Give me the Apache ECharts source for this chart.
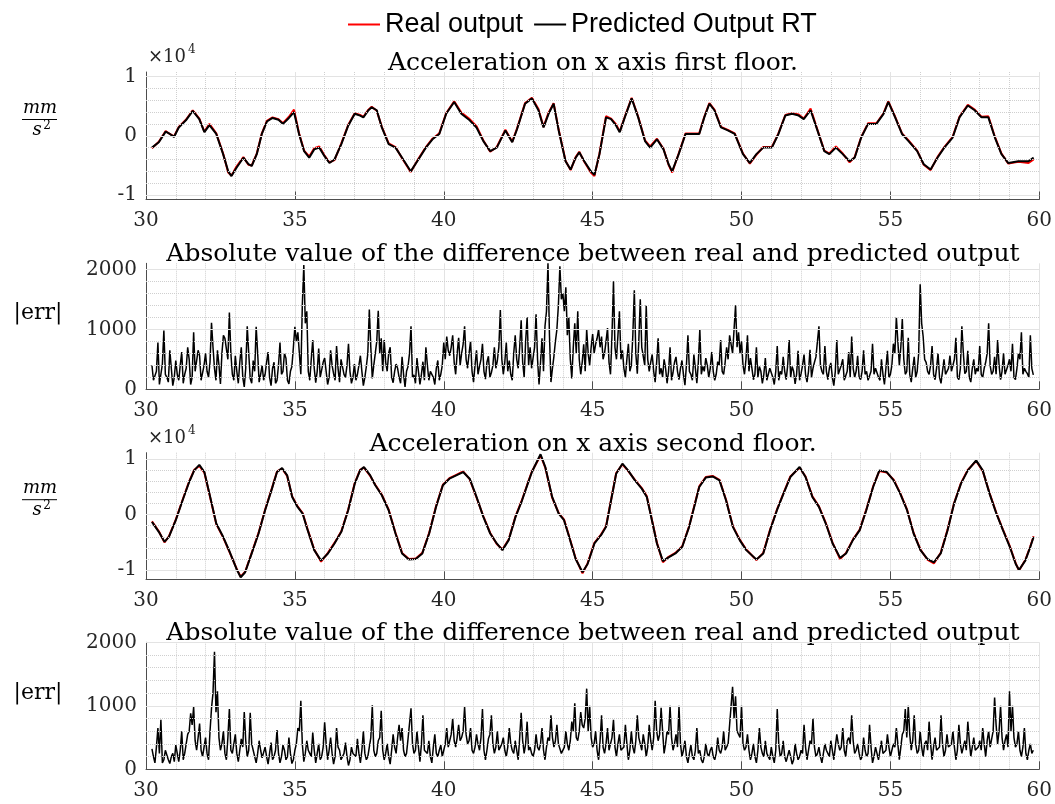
<!DOCTYPE html>
<html>
<head>
<meta charset="utf-8">
<script src="https://cdn.jsdelivr.net/npm/echarts@6.0.0/dist/echarts.min.js"></script>
<style>
html, body { margin: 0; padding: 0; background: #fff; }
#main { width: 1055px; height: 804px; }
</style>
</head>
<body>
<div id="main"></div>
<script>
// values: time in s, acceleration in mm/s^2
var legendNames = ['Real output', 'Predicted Output RT'];
var titleTexts = [
    'Acceleration on x axis first floor.',
    'Absolute value of the difference between real and predicted output',
    'Acceleration on x axis second floor.',
    'Absolute value of the difference between real and predicted output'
];

var acc1Time = [
    30.2, 30.43, 30.66, 30.8, 30.94, 31.1, 31.34, 31.57, 31.79, 31.96,
    32.13, 32.36, 32.59, 32.76, 32.87, 33.04, 33.27, 33.44, 33.55, 33.72,
    33.89, 34.06, 34.25, 34.45, 34.6, 34.8, 34.97, 35.14, 35.31, 35.48,
    35.65, 35.82, 35.99, 36.16, 36.33, 36.56, 36.79, 37.01, 37.19, 37.3,
    37.47, 37.58, 37.75, 37.92, 38.15, 38.38, 38.6, 38.89, 39.11, 39.4,
    39.62, 39.85, 40.08, 40.35, 40.59, 40.87, 41.1, 41.33, 41.56, 41.78,
    42.07, 42.3, 42.46, 42.73, 42.96, 43.18, 43.35, 43.52, 43.69, 43.86,
    44.09, 44.26, 44.43, 44.55, 44.72, 44.94, 45.06, 45.23, 45.45, 45.62,
    45.79, 45.91, 46.08, 46.31, 46.53, 46.76, 46.93, 47.16, 47.38, 47.55,
    47.67, 47.89, 48.12, 48.35, 48.58, 48.75, 48.92, 49.09, 49.31, 49.54,
    49.77, 50.05, 50.28, 50.5, 50.73, 51.02, 51.24, 51.47, 51.7, 51.92,
    52.09, 52.32, 52.55, 52.78, 52.95, 53.17, 53.4, 53.63, 53.8, 54.02,
    54.25, 54.53, 54.77, 54.93, 55.16, 55.39, 55.61, 55.9, 56.12, 56.35,
    56.58, 56.81, 57.09, 57.32, 57.6, 57.83, 58.06, 58.29, 58.51, 58.73,
    58.96, 59.3, 59.64, 59.81
];
var acc1Pred = [
    -2000, -1100, 700, 300, -200, 1400, 2600, 4200, 2800, 600,
    1800, 300, -3100, -6000, -6800, -5400, -3700, -4800, -5100, -3100,
    300, 2400, 3000, 2700, 2000, 3000, 4000, 300, -2600, -3700,
    -2300, -2000, -3400, -4600, -4000, -1400, 1700, 3700, 3400, 3100,
    4300, 4800, 4300, 1400, -1400, -2000, -3700, -6000, -4300, -2000,
    -600, 300, 3700, 5700, 3700, 2600, 1400, -900, -2600, -2000,
    900, -1100, 1100, 5400, 6300, 4300, 1400, 3700, 5400, 900,
    -4300, -5700, -3700, -2800, -4300, -6000, -6600, -3100, 3100, 2800,
    1700, 600, 3100, 6300, 3100, -900, -2000, -600, -2300, -4800,
    -6000, -3100, 300, 300, 300, 3100, 5400, 4300, 1400, 900,
    300, -3100, -4600, -3100, -2000, -2000, 300, 3400, 3700, 3400,
    2800, 4300, 900, -2600, -3100, -2000, -3100, -4300, -3700, -300,
    2000, 2000, 3700, 5700, 3100, 300, -900, -2600, -4800, -5700,
    -3700, -2000, -300, 3100, 5100, 4300, 3100, 3100, -300, -3100,
    -4600, -4300, -4300, -3700
];
var acc1Real = [
    -2100, -1000, 800, 300, -100, 1500, 2700, 4300, 2900, 700,
    2000, 400, -3000, -6200, -6700, -5200, -3600, -4900, -5000, -3000,
    400, 2500, 3100, 2800, 2100, 3200, 4400, 400, -2500, -3500,
    -2100, -1800, -3300, -4500, -4100, -1300, 1800, 3800, 3500, 3200,
    4400, 4900, 4200, 1500, -1300, -1900, -3800, -6100, -4200, -1900,
    -500, 400, 3800, 5800, 3900, 2800, 1600, -800, -2700, -1900,
    1000, -1000, 1200, 5500, 6400, 4500, 1500, 3900, 5500, 1000,
    -4200, -5800, -3600, -2700, -4400, -6200, -6800, -3000, 3300, 2900,
    1900, 700, 3200, 6400, 3200, -800, -1800, -500, -2200, -4900,
    -6200, -3000, 400, 400, 400, 3200, 5500, 4400, 1500, 1000,
    400, -3000, -4700, -3200, -1900, -1900, 400, 3500, 3800, 3600,
    2900, 4600, 1000, -2500, -3000, -1800, -3000, -4500, -3600, -200,
    2100, 2100, 3800, 5800, 3200, 400, -800, -2500, -4900, -5800,
    -3600, -1900, -200, 3200, 5200, 4400, 3200, 3300, -200, -3000,
    -4700, -4400, -4600, -4000
];

var acc2Time = [
    30.2, 30.43, 30.62, 30.77, 31.0, 31.23, 31.45, 31.62, 31.79, 31.96,
    32.13, 32.36, 32.59, 32.81, 33.04, 33.18, 33.33, 33.55, 33.78, 34.0,
    34.23, 34.4, 34.57, 34.74, 34.91, 35.09, 35.26, 35.43, 35.65, 35.88,
    36.11, 36.33, 36.56, 36.79, 37.01, 37.19, 37.32, 37.53, 37.7, 37.92,
    38.15, 38.38, 38.6, 38.83, 39.06, 39.28, 39.51, 39.74, 39.97, 40.19,
    40.42, 40.65, 40.87, 41.1, 41.33, 41.56, 41.78, 41.97, 42.18, 42.41,
    42.63, 42.86, 42.96, 43.25, 43.41, 43.64, 43.86, 44.04, 44.21, 44.43,
    44.66, 44.83, 45.06, 45.28, 45.45, 45.62, 45.79, 46.0, 46.19, 46.42,
    46.65, 46.82, 46.99, 47.16, 47.36, 47.55, 47.78, 48.01, 48.24, 48.41,
    48.58, 48.8, 49.03, 49.26, 49.48, 49.71, 49.94, 50.16, 50.5, 50.73,
    50.96, 51.19, 51.41, 51.64, 51.95, 52.15, 52.38, 52.6, 52.83, 53.06,
    53.31, 53.51, 53.74, 53.97, 54.19, 54.42, 54.63, 54.88, 55.11, 55.33,
    55.56, 55.78, 56.01, 56.24, 56.46, 56.69, 56.92, 57.14, 57.37, 57.6,
    57.88, 58.1, 58.33, 58.56, 58.78, 59.01, 59.21, 59.32, 59.53, 59.7,
    59.81
];
var acc2Pred = [
    -1300, -3100, -4900, -4000, -1000, 2600, 5900, 8000, 9000, 7700,
    3800, -1600, -4000, -6700, -9800, -11300, -10400, -7000, -3400, 800,
    4700, 7700, 8400, 7100, 3200, 1400, 200, -2800, -6400, -8300,
    -7000, -5200, -3100, 800, 5600, 8000, 8600, 7100, 5300, 3500,
    800, -3400, -7000, -8100, -8000, -7000, -3400, 1400, 5300, 6500,
    7100, 7700, 6500, 3200, -400, -3400, -5200, -6400, -4600, -400,
    2600, 6200, 7700, 10900, 8600, 3200, 200, -1000, -4000, -8000,
    -10400, -8900, -5200, -3700, -2200, 2600, 7400, 9200, 8000, 6200,
    4700, 3200, -1000, -5200, -8400, -7700, -7000, -5800, -2200, 1400,
    5000, 6700, 6900, 6200, 2600, -2200, -4600, -6400, -8100, -7000,
    -2800, 800, 3800, 6800, 8600, 6800, 3200, 1400, -1600, -5200,
    -7800, -7000, -4600, -2800, 800, 5000, 8000, 7700, 6200, 3800,
    800, -3400, -6400, -8000, -8600, -7000, -2800, 2000, 5600, 8000,
    9800, 8000, 3800, 200, -2800, -5800, -8900, -10000, -8300, -5800,
    -4000
];
var acc2Real = [
    -1200, -3000, -5000, -3900, -900, 2700, 6000, 8100, 8800, 7600,
    3700, -1700, -4100, -6800, -9700, -11200, -10300, -6900, -3300, 900,
    4800, 7800, 8300, 7000, 3300, 1500, 300, -2700, -6300, -8500,
    -6900, -5100, -3000, 900, 5700, 8100, 8500, 7000, 5400, 3600,
    900, -3300, -6900, -8000, -7900, -6900, -3300, 1500, 5400, 6600,
    7200, 7800, 6400, 3100, -300, -3300, -5300, -6300, -4500, -300,
    2700, 6300, 7800, 10700, 8500, 3100, 300, -900, -3900, -7900,
    -10600, -8800, -5100, -3600, -2100, 2700, 7500, 9100, 7900, 6300,
    4800, 3300, -900, -5100, -8600, -7600, -6900, -5700, -2100, 1500,
    5100, 6800, 7000, 6300, 2700, -2100, -4500, -6300, -8200, -6900,
    -2700, 900, 3900, 6900, 8500, 6900, 3300, 1500, -1500, -5100,
    -8000, -6900, -4500, -2700, 900, 5100, 7900, 7600, 6300, 3900,
    900, -3300, -6300, -8100, -8800, -6900, -2700, 2100, 5700, 8100,
    9700, 7900, 3900, 300, -2700, -5700, -8800, -10100, -8200, -5700,
    -3900
];

// |err| samples every 0.1 s from 30.2 s, plus the samples halfway between them
var errStart = 30.2;
var errStep = 0.1;
var err1 = [
    400, 120, 780, 90, 980, 200, 650, 60,
    480, 150, 620, 250, 700, 80, 950, 300, 560, 130,
    600, 200, 1110, 350, 650, 90, 900, 820, 1280, 250,
    560, 100, 700, 40, 1050, 180, 480, 1040, 120, 400,
    250, 620, 60, 450, 150, 780, 300, 520, 90, 380,
    1040, 950, 250, 2070, 1300, 150, 820, 110, 680, 200,
    520, 80, 650, 260, 720, 120, 480, 200, 760, 100,
    420, 250, 560, 60, 380, 1330, 180, 600, 1310, 850,
    820, 300, 700, 110, 420, 200, 540, 40, 380, 1050,
    240, 520, 80, 460, 700, 150, 320, 80, 480, 250,
    780, 880, 560, 900, 250, 860, 600, 1050, 350, 800,
    120, 650, 380, 760, 170, 550, 280, 700, 480, 1320,
    250, 780, 480, 150, 900, 350, 1150, 200, 1200, 700,
    380, 1250, 80, 850, 1050, 2100, 120, 550, 1000, 2050,
    1600, 1700, 1200, 180, 1100, 1300, 250, 750, 1000, 400,
    920, 750, 1000, 880, 600, 1020, 250, 1800, 500, 1300,
    650, 200, 760, 400, 1650, 260, 1500, 550, 1400, 300,
    580, 120, 850, 350, 500, 100, 700, 280, 540, 160,
    480, 70, 900, 250, 580, 100, 1000, 380, 520, 200,
    620, 150, 460, 820, 250, 700, 900, 600, 1400, 950,
    800, 250, 900, 520, 160, 700, 380, 100, 520, 250,
    350, 80, 720, 300, 540, 160, 820, 380, 90, 640,
    260, 580, 120, 660, 350, 540, 1050, 300, 720, 160,
    440, 60, 820, 250, 500, 120, 620, 880, 200, 560,
    160, 650, 300, 120, 760, 350, 200, 500, 80, 640,
    250, 760, 1200, 400, 1170, 250, 860, 120, 540, 300,
    1750, 880, 450, 250, 720, 160, 600, 100, 500, 220,
    560, 300, 860, 160, 1050, 260, 640, 120, 500, 350,
    720, 200, 450, 1100, 250, 540, 820, 160, 600, 260,
    500, 760, 160, 600, 950, 350, 260, 900, 240
];
var err1Half = [
    150, 300, 80, 420, 250, 120, 350, 200,
    250, 400, 100, 350, 500, 200, 300, 650, 150, 400,
    300, 450, 700, 150, 400, 600, 850, 500, 600, 150,
    300, 450, 200, 350, 600, 100, 300, 600, 250, 150,
    450, 200, 350, 100, 400, 250, 600, 150, 300, 700,
    800, 600, 1400, 1100, 300, 500, 350, 300, 200, 450,
    300, 200, 400, 150, 350, 500, 250, 400, 300, 200,
    150, 400, 300, 200, 600, 700, 400, 800, 600, 300,
    450, 600, 200, 300, 350, 100, 250, 300, 600, 200,
    100, 300, 250, 150, 400, 300, 200, 350, 150, 400,
    500, 650, 700, 450, 600, 400, 750, 500, 600, 300,
    400, 250, 500, 300, 450, 200, 400, 350, 700, 500,
    450, 300, 250, 600, 500, 700, 450, 800, 400, 350,
    700, 500, 450, 300, 1300, 900, 350, 800, 1400, 1500,
    1300, 900, 500, 700, 600, 500, 450, 300, 600, 700,
    600, 850, 700, 500, 800, 450, 900, 700, 900, 500,
    350, 500, 300, 900, 600, 800, 700, 400, 500, 450,
    300, 450, 250, 200, 350, 300, 150, 450, 300, 350,
    250, 400, 300, 150, 350, 450, 250, 300, 400, 350,
    300, 250, 400, 300, 450, 500, 750, 1000, 700, 600,
    400, 500, 300, 350, 250, 200, 300, 250, 150, 350,
    200, 300, 150, 250, 300, 400, 200, 300, 250, 150,
    400, 250, 300, 200, 450, 800, 400, 250, 300, 350,
    200, 300, 250, 400, 150, 300, 200, 350, 300, 200,
    300, 250, 150, 300, 250, 350, 150, 250, 350, 200,
    400, 600, 800, 700, 500, 300, 250, 350, 200, 600,
    1100, 500, 300, 400, 250, 350, 200, 300, 250, 350,
    300, 500, 200, 350, 600, 300, 200, 350, 250, 300,
    250, 350, 600, 400, 300, 250, 400, 300, 250, 400,
    300, 200, 350, 500, 250, 300, 200, 350
];
var err2 = [
    320, 100, 650, 780, 150, 300, 90, 250,
    380, 120, 600, 250, 550, 880, 980, 300, 720, 200,
    500, 150, 960, 1850, 1230, 300, 600, 150, 950, 250,
    550, 120, 480, 900, 200, 890, 300, 100, 450, 180,
    350, 80, 420, 200, 620, 100, 380, 150, 500, 90,
    300, 650, 1080, 120, 450, 250, 580, 100, 400, 200,
    740, 150, 500, 80, 650, 300, 150, 420, 60, 350,
    250, 480, 100, 600, 150, 350, 1010, 200, 450, 920,
    150, 400, 80, 550, 250, 700, 650, 200, 480, 960,
    250, 600, 120, 850, 300, 450, 100, 550, 200, 380,
    300, 650, 450, 800, 350, 700, 500, 980, 400, 650,
    250, 550, 300, 950, 150, 480, 850, 250, 600, 350,
    500, 200, 650, 300, 450, 150, 890, 250, 750, 350,
    200, 550, 300, 650, 150, 500, 850, 350, 700, 400,
    250, 600, 300, 750, 1040, 450, 900, 650, 1270, 1000,
    350, 600, 150, 850, 250, 650, 400, 780, 200, 550,
    300, 700, 150, 600, 250, 850, 400, 550, 200, 700,
    300, 1080, 450, 970, 250, 600, 1000, 300, 550, 1000,
    200, 450, 100, 380, 150, 650, 300, 100, 400, 200,
    350, 150, 500, 250, 600, 300, 700, 1300, 1150, 600,
    1000, 300, 550, 150, 400, 100, 650, 250, 450, 200,
    350, 100, 950, 200, 450, 120, 300, 80, 400, 150,
    300, 700, 150, 450, 800, 200, 350, 100, 400, 250,
    450, 150, 550, 300, 650, 200, 500, 850, 250, 400,
    150, 500, 200, 700, 100, 350, 150, 450, 250, 550,
    200, 400, 650, 150, 550, 950, 1000, 300, 850, 250,
    600, 200, 450, 750, 150, 500, 300, 850, 200, 550,
    350, 600, 150, 700, 250, 450, 750, 200, 500, 300,
    450, 650, 200, 600, 350, 1130, 400, 1000, 300, 550,
    1230, 1000, 350, 600, 200, 650, 150, 400, 300
];
var err2Half = [
    200, 350, 250, 100, 300, 150, 200, 120,
    250, 300, 150, 400, 600, 700, 450, 500, 300, 350,
    250, 600, 1200, 900, 500, 400, 250, 500, 300, 400,
    250, 300, 350, 450, 300, 400, 200, 250, 300, 150,
    200, 250, 150, 300, 250, 200, 300, 200, 250, 150,
    400, 600, 400, 250, 300, 200, 300, 250, 150, 350,
    400, 300, 250, 200, 350, 150, 250, 200, 150, 250,
    200, 250, 300, 250, 200, 500, 300, 250, 500, 300,
    250, 200, 300, 350, 500, 450, 300, 250, 500, 400,
    300, 350, 400, 300, 250, 200, 350, 250, 300, 200,
    400, 350, 550, 450, 500, 450, 600, 550, 450, 300,
    350, 400, 500, 300, 300, 550, 400, 350, 300, 400,
    300, 350, 400, 250, 300, 500, 450, 400, 300, 250,
    300, 350, 400, 300, 350, 450, 500, 450, 400, 250,
    350, 400, 450, 600, 500, 600, 700, 800, 600, 500,
    400, 300, 450, 350, 400, 300, 500, 350, 400, 300,
    350, 400, 300, 350, 450, 500, 300, 400, 350, 450,
    500, 600, 550, 600, 400, 550, 500, 400, 350, 400,
    300, 200, 250, 200, 300, 250, 150, 200, 250, 300,
    200, 250, 300, 350, 300, 400, 700, 800, 600, 500,
    400, 350, 300, 250, 200, 300, 350, 200, 250, 150,
    200, 300, 400, 250, 200, 150, 200, 150, 250, 200,
    250, 350, 300, 400, 350, 250, 200, 250, 300, 200,
    300, 350, 400, 350, 300, 450, 400, 450, 300, 250,
    200, 300, 250, 350, 200, 250, 300, 250, 300, 350,
    300, 350, 400, 350, 600, 500, 550, 450, 400, 300,
    350, 400, 300, 400, 350, 300, 350, 400, 300, 350,
    400, 350, 300, 400, 350, 300, 450, 350, 300, 350,
    300, 400, 450, 350, 600, 700, 600, 500, 450, 350,
    600, 500, 400, 300, 350, 250, 300, 250
];

var accTicks = [-10000, 0, 10000];
var accMinor = [-8000, -6000, -4000, -2000, 2000, 4000, 6000, 8000];
var errTicks = [0, 1000, 2000];
var errMinor = [200, 400, 600, 800, 1200, 1400, 1600, 1800];

var serif = 'DejaVu Serif';
var axisColor = '#4d4d4d';
var textColor = '#262626';
var majorGrid = '#e3e3e3';
var minorGrid = '#cfcfcf';

var plots = [
    { top: 72, height: 127.5, min: -10750, max: 10750 },
    { top: 263.3, height: 126, min: 0, max: 2100 },
    { top: 452.7, height: 126.6, min: -11670, max: 11190 },
    { top: 642.3, height: 127, min: 0, max: 2000 }
];

function pairs(t, v) {
    var out = [];
    for (var i = 0; i < t.length; i++) {
        out.push([t[i], v[i]]);
    }
    return out;
}

function sampled(full, half) {
    var out = [];
    for (var i = 0; i < full.length; i++) {
        out.push([Math.round((errStart + i * errStep) * 100) / 100, full[i]]);
        if (i < half.length) {
            out.push([Math.round((errStart + (i + 0.5) * errStep) * 100) / 100, half[i]]);
        }
    }
    return out;
}

function gridLines(i, major, minor) {
    var items = [];
    major.forEach(function (v) {
        items.push({ yAxis: v, lineStyle: { color: majorGrid, type: 'solid', width: 1 } });
    });
    minor.forEach(function (v) {
        items.push({ yAxis: v, lineStyle: { color: minorGrid, type: 'dotted', width: 1 } });
    });
    return {
        type: 'line', xAxisIndex: i, yAxisIndex: i, data: [], z: 1, silent: true,
        markLine: {
            silent: true, symbol: ['none', 'none'], label: { show: false },
            animation: false, data: items
        }
    };
}

function xAxisFor(i) {
    return {
        type: 'value', gridIndex: i, min: 30, max: 60, interval: 5,
        axisLine: { show: true, onZero: false, lineStyle: { color: axisColor, width: 1 } },
        axisTick: { show: true, inside: true, length: 8, lineStyle: { color: axisColor } },
        axisLabel: { margin: 11, color: textColor, fontFamily: serif, fontSize: 20 },
        splitLine: { show: true, lineStyle: { color: majorGrid, width: 1 } },
        minorTick: { show: false, splitNumber: 5 },
        minorSplitLine: { show: true, lineStyle: { color: minorGrid, type: 'dotted', width: 1 } }
    };
}

function yAxisFor(i, ticks, formatter) {
    return {
        type: 'value', gridIndex: i, min: plots[i].min, max: plots[i].max,
        axisLine: { show: true, lineStyle: { color: axisColor, width: 1 } },
        axisTick: { show: true, inside: true, length: 8, customValues: ticks, lineStyle: { color: axisColor } },
        axisLabel: {
            customValues: ticks, formatter: formatter, margin: 9,
            color: textColor, fontFamily: serif, fontSize: 20
        },
        splitLine: { show: false }
    };
}

function accLabel(v) {
    return String(v / 10000);
}

function errLabel(v) {
    return String(v);
}

function signal(name, i, data, color, width) {
    return {
        name: name, type: 'line', xAxisIndex: i, yAxisIndex: i,
        data: data, symbol: 'none', showSymbol: false, z: 2,
        lineStyle: { color: color, width: width }, itemStyle: { color: color }
    };
}

function fracLabel(barY) {
    return [
        { type: 'text', x: 40, y: barY - 11, style: { text: 'mm', fontFamily: serif, fontStyle: 'italic', fontSize: 18, fill: '#000', align: 'center', verticalAlign: 'middle' } },
        { type: 'line', shape: { x1: 22, y1: barY, x2: 57, y2: barY }, style: { stroke: '#000', lineWidth: 1 } },
        { type: 'text', x: 37, y: barY + 11, style: { text: 's', fontFamily: serif, fontStyle: 'italic', fontSize: 18, fill: '#000', align: 'center', verticalAlign: 'middle' } },
        { type: 'text', x: 47, y: barY + 6, style: { text: '2', fontFamily: serif, fontSize: 12, fill: '#000', align: 'center', verticalAlign: 'middle' } }
    ];
}

function expLabel(y) {
    return [
        { type: 'text', x: 148, y: y, style: { text: '\u00d710', fontFamily: serif, fontSize: 18, fill: textColor, align: 'left', verticalAlign: 'middle' } },
        { type: 'text', x: 188, y: y - 7, style: { text: '4', fontFamily: serif, fontSize: 12, fill: textColor, align: 'left', verticalAlign: 'middle' } }
    ];
}

var graphics = [];
var titleY = [63, 254.6, 444, 633.6];
for (var k = 0; k < titleTexts.length; k++) {
    graphics.push({
        type: 'text', x: 593, y: titleY[k],
        style: { text: titleTexts[k], fontFamily: serif, fontSize: 25, fill: '#000', align: 'center', verticalAlign: 'middle' }
    });
}
graphics = graphics.concat(fracLabel(119.5), fracLabel(499.7), expLabel(57), expLabel(438));
graphics.push({ type: 'text', x: 38, y: 313, style: { text: '|err|', fontFamily: serif, fontSize: 22, fill: '#000', align: 'center', verticalAlign: 'middle' } });
graphics.push({ type: 'text', x: 38, y: 693, style: { text: '|err|', fontFamily: serif, fontSize: 22, fill: '#000', align: 'center', verticalAlign: 'middle' } });

var dom = document.getElementById('main');
var myChart = echarts.init(dom);

var option = {
    animation: false,
    backgroundColor: '#fff',
    legend: {
        data: legendNames, left: 343, top: 6,
        itemWidth: 32, itemHeight: 2, itemGap: 11, icon: 'rect',
        textStyle: { fontFamily: 'Liberation Sans', fontSize: 27, color: '#000' }
    },
    grid: plots.map(function (p) {
        return { left: 146, right: 15, top: p.top, height: p.height };
    }),
    xAxis: [xAxisFor(0), xAxisFor(1), xAxisFor(2), xAxisFor(3)],
    yAxis: [
        yAxisFor(0, accTicks, accLabel),
        yAxisFor(1, errTicks, errLabel),
        yAxisFor(2, accTicks, accLabel),
        yAxisFor(3, errTicks, errLabel)
    ],
    graphic: graphics,
    series: [
        gridLines(0, accTicks, accMinor),
        gridLines(1, errTicks.slice(1), errMinor),
        gridLines(2, accTicks, accMinor),
        gridLines(3, errTicks.slice(1), errMinor),
        signal(legendNames[0], 0, pairs(acc1Time, acc1Real), '#ff0000', 2),
        signal(legendNames[1], 0, pairs(acc1Time, acc1Pred), '#000000', 2),
        signal('err1', 1, sampled(err1, err1Half), '#000000', 1.5),
        signal(legendNames[0], 2, pairs(acc2Time, acc2Real), '#ff0000', 2),
        signal(legendNames[1], 2, pairs(acc2Time, acc2Pred), '#000000', 2),
        signal('err2', 3, sampled(err2, err2Half), '#000000', 1.5)
    ]
};

if (option && typeof option === "object") {
    myChart.setOption(option, true);
}
</script>
</body>
</html>
